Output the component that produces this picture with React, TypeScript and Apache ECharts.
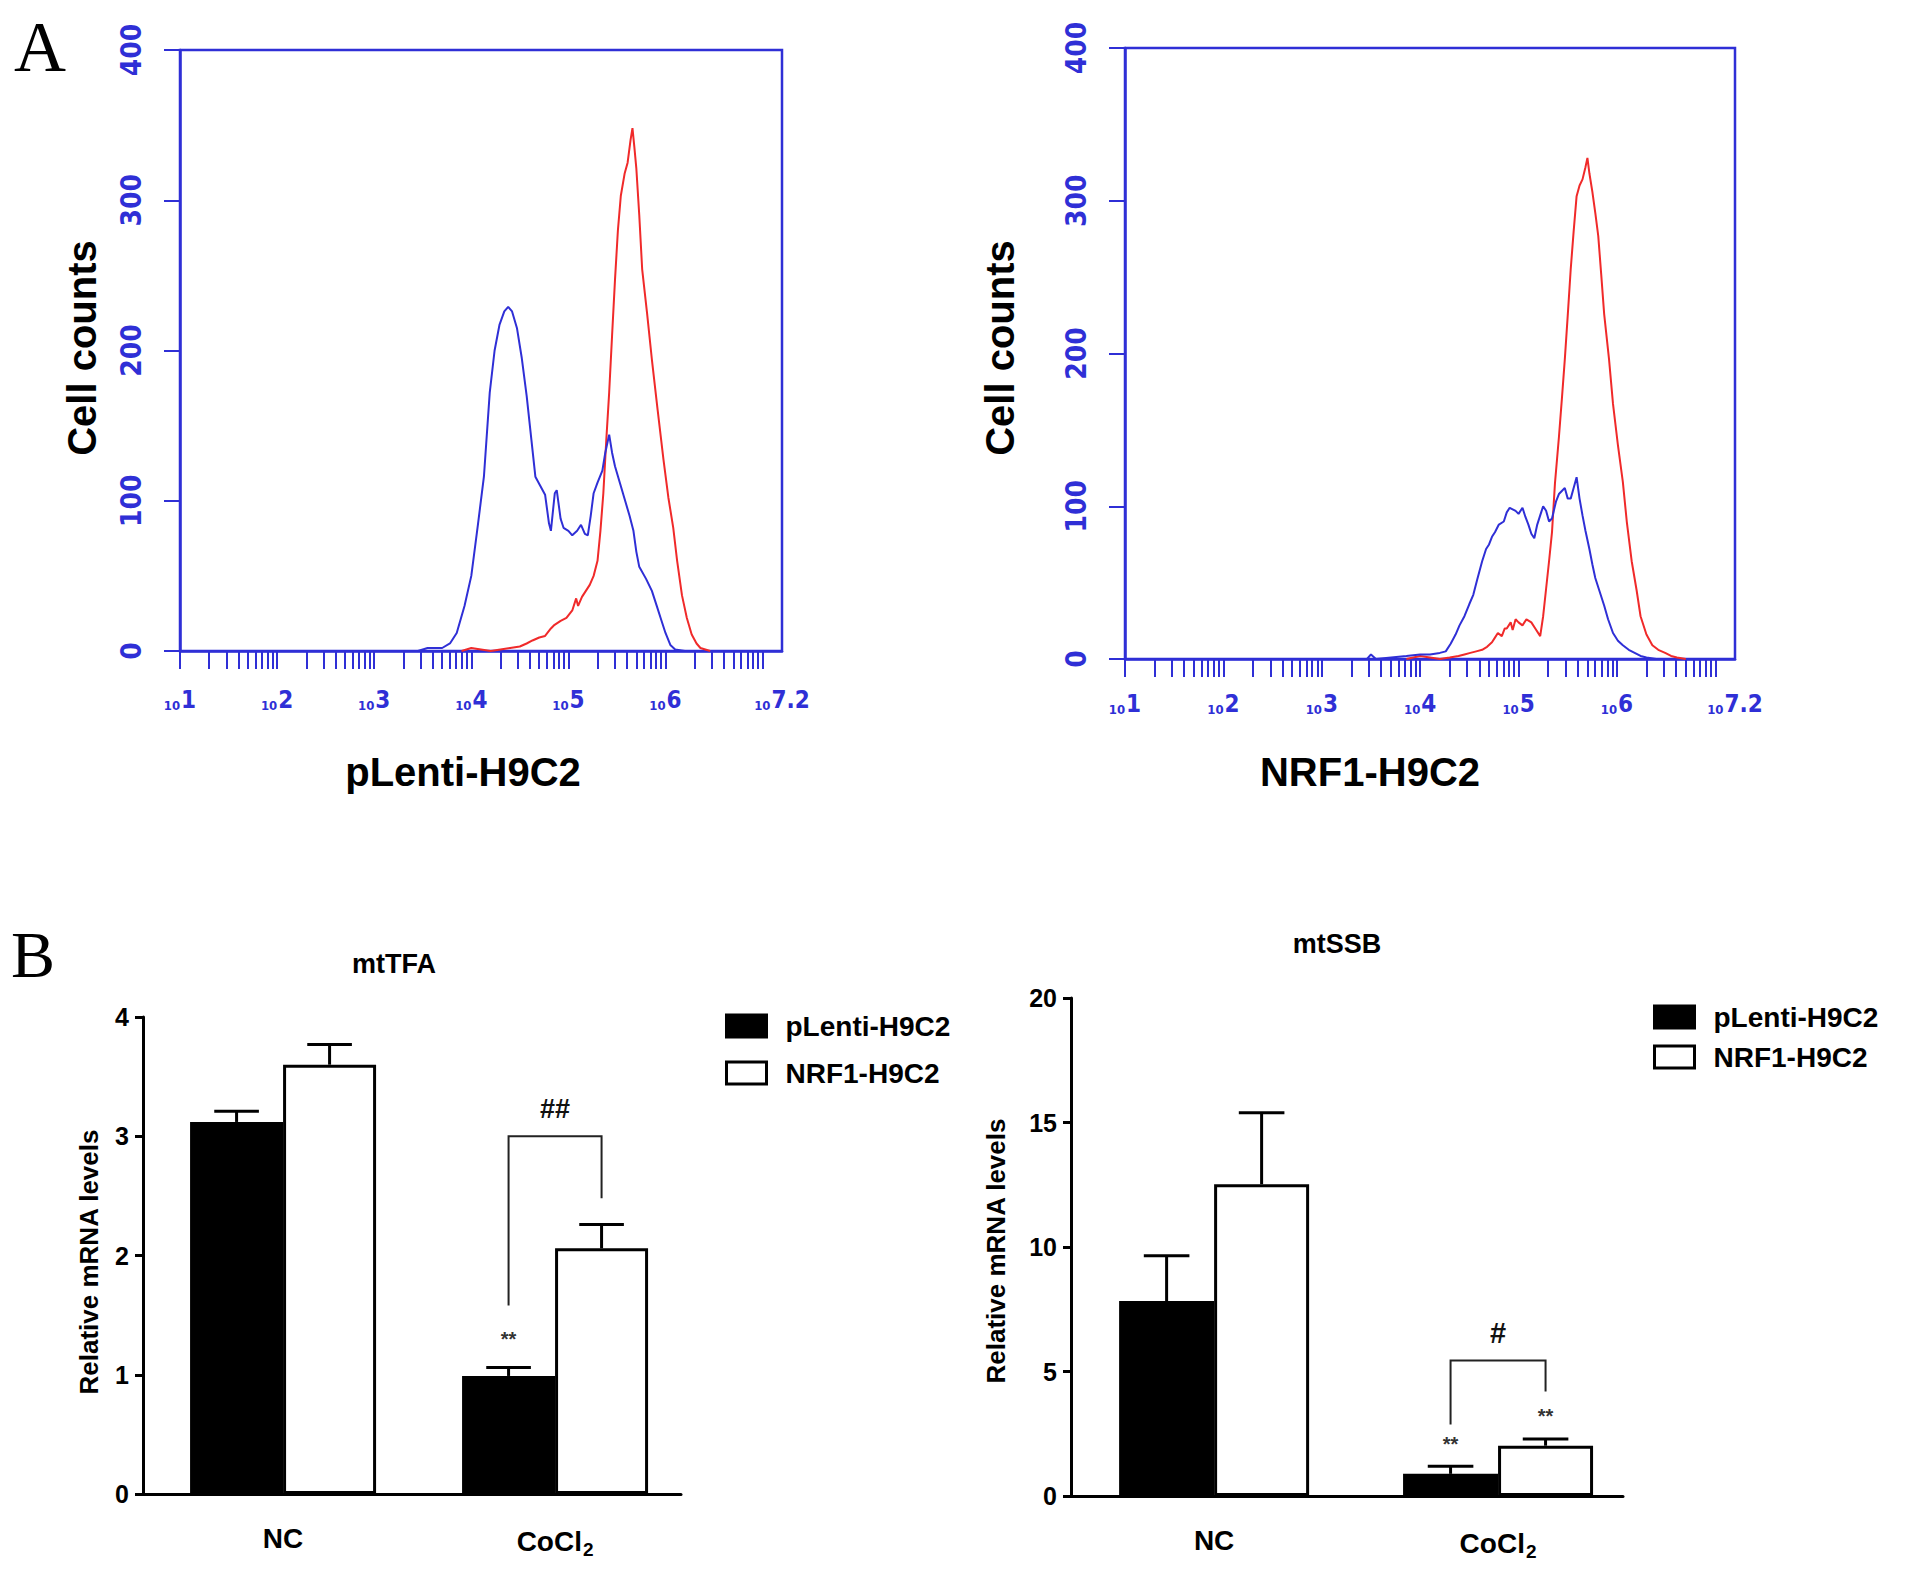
import React, { useEffect, useRef } from "react";
import * as echarts from "echarts";

// ---------- Panel A: flow cytometry histograms (x = log10 fluorescence, y = cell counts) ----------
const histYTicks = [0, 100, 200, 300, 400];
const histXExponents = [1, 2, 3, 4, 5, 6, 7.2];
const histXLabels = ["1", "2", "3", "4", "5", "6", "7.2"];

const pLentiBlue: number[][] = [
  [3.45, 0], [3.55, 2], [3.7, 2], [3.78, 5], [3.85, 12], [3.93, 30], [4.0, 50], [4.07, 85],
  [4.13, 116], [4.19, 172], [4.24, 200], [4.29, 217], [4.34, 226], [4.38, 229], [4.42, 226],
  [4.47, 215], [4.52, 195], [4.57, 170], [4.62, 140], [4.66, 116], [4.71, 110], [4.76, 104],
  [4.8, 85], [4.82, 80], [4.86, 105], [4.88, 107], [4.92, 88], [4.95, 82], [5.0, 80], [5.04, 77],
  [5.09, 80], [5.13, 84], [5.17, 78], [5.2, 77], [5.23, 90], [5.26, 105], [5.3, 112], [5.35, 120],
  [5.38, 132], [5.42, 144], [5.45, 132], [5.48, 123], [5.53, 112], [5.58, 101], [5.63, 90],
  [5.67, 80], [5.7, 66], [5.73, 56], [5.8, 48], [5.86, 40], [5.91, 30], [5.95, 22], [6.0, 12],
  [6.05, 4], [6.1, 1], [6.2, 0],
];
const pLentiRed: number[][] = [
  [3.9, 0], [4.0, 2], [4.1, 1], [4.2, 0], [4.3, 1], [4.4, 2], [4.5, 3], [4.57, 5], [4.63, 7],
  [4.7, 9], [4.76, 10], [4.82, 15], [4.85, 17], [4.92, 20], [4.98, 22], [5.04, 27], [5.08, 35],
  [5.1, 30], [5.14, 36], [5.18, 40], [5.22, 44], [5.26, 50], [5.3, 60], [5.33, 80], [5.36, 105],
  [5.39, 140], [5.42, 172], [5.45, 210], [5.48, 247], [5.51, 280], [5.54, 303], [5.58, 318],
  [5.61, 325], [5.64, 340], [5.66, 348], [5.68, 335], [5.7, 321], [5.73, 290], [5.76, 254],
  [5.81, 225], [5.86, 194], [5.92, 160], [5.98, 127], [6.03, 102], [6.08, 82], [6.12, 60],
  [6.17, 37], [6.22, 22], [6.27, 11], [6.32, 5], [6.36, 2], [6.46, 0],
];
const nrf1Blue: number[][] = [
  [3.46, 0], [3.5, 3], [3.55, 0], [3.86, 2], [4.0, 3], [4.1, 3], [4.2, 4], [4.26, 5], [4.31, 10],
  [4.36, 16], [4.4, 22], [4.45, 28], [4.5, 36], [4.54, 42], [4.58, 52], [4.63, 64], [4.67, 72],
  [4.7, 75], [4.73, 80], [4.76, 83], [4.8, 88], [4.85, 90], [4.88, 96], [4.91, 99], [4.94, 98],
  [4.97, 97], [5.0, 95], [5.04, 99], [5.07, 93], [5.1, 88], [5.13, 82], [5.16, 79], [5.19, 88],
  [5.22, 94], [5.25, 100], [5.28, 97], [5.31, 90], [5.34, 92], [5.38, 103], [5.41, 108],
  [5.44, 110], [5.47, 112], [5.5, 105], [5.53, 105], [5.56, 112], [5.59, 119], [5.62, 105],
  [5.65, 94], [5.68, 84], [5.72, 72], [5.75, 62], [5.78, 53], [5.82, 45], [5.87, 35], [5.91, 26],
  [5.96, 17], [6.01, 12], [6.06, 9], [6.12, 6], [6.18, 4], [6.24, 2], [6.3, 1], [6.4, 0],
];
const nrf1Red: number[][] = [
  [3.86, 0], [4.0, 2], [4.1, 1], [4.2, 0], [4.3, 1], [4.39, 2], [4.45, 3], [4.51, 4], [4.57, 5],
  [4.63, 6], [4.68, 8], [4.73, 11], [4.76, 14], [4.79, 17], [4.83, 15], [4.86, 20], [4.88, 20],
  [4.92, 24], [4.94, 19], [4.97, 26], [5.0, 24], [5.04, 22], [5.08, 26], [5.13, 24], [5.17, 20],
  [5.22, 15], [5.25, 28], [5.28, 46], [5.31, 64], [5.34, 83], [5.37, 115], [5.41, 145],
  [5.44, 170], [5.47, 196], [5.5, 225], [5.53, 255], [5.56, 280], [5.59, 303], [5.62, 310],
  [5.65, 314], [5.68, 322], [5.7, 328], [5.72, 318], [5.75, 306], [5.78, 292], [5.81, 277],
  [5.84, 252], [5.87, 226], [5.92, 196], [5.96, 167], [6.01, 140], [6.06, 116], [6.1, 90],
  [6.15, 64], [6.2, 45], [6.24, 28], [6.3, 16], [6.36, 9], [6.42, 6], [6.49, 4], [6.55, 2],
  [6.61, 1], [6.7, 0],
];

// ---------- Panel B: relative mRNA levels ----------
const groups = ["NC", "CoCl2"];
const groupPositions = [0, 1];
const seriesNames = ["pLenti-H9C2", "NRF1-H9C2"];

const tfaPLenti = [3.12, 0.99];
const tfaPLentiErr = [0.09, 0.07];
const tfaNRF1 = [3.6, 2.06];
const tfaNRF1Err = [0.17, 0.2];

const ssbPLenti = [7.83, 0.89];
const ssbPLentiErr = [1.82, 0.3];
const ssbNRF1 = [12.52, 2.02];
const ssbNRF1Err = [2.87, 0.27];

// significance marks: bracket = [group, left end, top, right end], label level
const tfaBracket = [1, 1.58, 3.0, 2.48];
const tfaHash = { text: "##", level: 3.23 };
const tfaStars = [[1, -1, 1.3]]; // [group, side(-1 pLenti / +1 NRF1), level]

const ssbBracket = [1, 2.87, 5.44, 4.2];
const ssbHash = { text: "#", level: 6.53 };
const ssbStars = [[1, -1, 2.07], [1, 1, 3.23]];

const BLUE = "#2f2fd6";
const RED = "#f02a2a";
const SANS = "'Liberation Sans', Arial, Helvetica, sans-serif";
const NARROW = "'Liberation Sans Narrow', 'DejaVu Sans Condensed', 'Liberation Sans', sans-serif";
const SERIF = "'Liberation Serif', 'DejaVu Serif', 'Times New Roman', serif";

const logTicks: number[] = [];
for (let n = 1; n <= 7; n++) {
  for (let k = 1; k <= 9; k++) {
    const v = n + Math.log10(k);
    if (v <= 7.2 + 1e-9) logTicks.push(v);
  }
}

function histAxes(gi: number, xMargin: number) {
  const x = {
    type: "value",
    gridIndex: gi,
    min: 1,
    max: 7.2,
    axisLine: { show: true, onZero: false, lineStyle: { color: BLUE, width: 2.5 } },
    axisTick: { show: true, customValues: logTicks, length: 18, lineStyle: { color: BLUE, width: 2 } },
    axisLabel: {
      customValues: histXExponents,
      margin: xMargin,
      formatter: (v: number) => {
        let idx = 0;
        histXExponents.forEach((e, i) => {
          if (Math.abs(e - v) < 1e-6) idx = i;
        });
        return `{b|10}{s|${histXLabels[idx]}}`;
      },
      rich: {
        b: { fontSize: 13, color: BLUE, fontFamily: NARROW, fontWeight: "bold", padding: [12, 1, 0, 0] },
        s: { fontSize: 24, color: BLUE, fontFamily: NARROW, fontWeight: "bold" },
      },
    },
    splitLine: { show: false },
  };
  const y = {
    type: "value",
    gridIndex: gi,
    min: 0,
    max: 400,
    interval: 100,
    axisLine: { show: true, onZero: false, lineStyle: { color: BLUE, width: 2.5 } },
    axisTick: { show: true, length: 16, lineStyle: { color: BLUE, width: 2 } },
    axisLabel: {
      rotate: 90,
      margin: 35,
      color: BLUE,
      fontSize: 28,
      fontWeight: "bold",
      fontFamily: NARROW,
      formatter: (v: number) => (histYTicks.indexOf(v) >= 0 ? String(v) : ""),
    },
    splitLine: { show: false },
  };
  return { x, y };
}

function barAxes(gi: number, xMin: number, xMax: number, max: number, interval: number) {
  const x = {
    type: "value",
    gridIndex: gi,
    min: xMin,
    max: xMax,
    axisLine: { show: true, onZero: false, lineStyle: { color: "#000", width: 3 } },
    axisTick: { show: false },
    axisLabel: {
      customValues: groupPositions,
      margin: 30,
      formatter: (v: number) => {
        const g = groups[Math.round(v)] || "";
        return g === "CoCl2" ? "{a|CoCl}{sub|2}" : `{a|${g}}`;
      },
      rich: {
        a: { fontSize: 28, fontWeight: "bold", fontFamily: SANS, color: "#000" },
        sub: { fontSize: 19, fontWeight: "bold", fontFamily: SANS, color: "#000", padding: [16, 0, 0, 1] },
      },
    },
    splitLine: { show: false },
  };
  const y = {
    type: "value",
    gridIndex: gi,
    min: 0,
    max,
    interval,
    axisLine: { show: true, onZero: false, lineStyle: { color: "#000", width: 3 } },
    axisTick: { show: true, length: 8, lineStyle: { color: "#000", width: 3 } },
    axisLabel: { fontSize: 25, fontWeight: "bold", fontFamily: SANS, color: "#000", margin: 14 },
    splitLine: { show: false },
  };
  return { x, y };
}

function barSeries(gi: number, name: string, data: number[], fill: string, barW: number) {
  return {
    type: "bar",
    name,
    xAxisIndex: gi,
    yAxisIndex: gi,
    data: data.map((v, i) => [groupPositions[i], v]),
    barWidth: barW,
    barGap: "0%",
    itemStyle: { color: fill, borderColor: "#000", borderWidth: 3 },
    z: 2,
  };
}

function errorSeries(gi: number, values: number[], errs: number[], side: number, barW: number) {
  return {
    type: "custom",
    xAxisIndex: gi,
    yAxisIndex: gi,
    silent: true,
    z: 3,
    data: values.map((v, i) => [groupPositions[i], v, errs[i]]),
    encode: { x: 0, y: 1 },
    renderItem: (_p: any, api: any) => {
      const c = api.value(0);
      const v = api.value(1);
      const e = api.value(2);
      const base = api.coord([c, v]);
      const top = api.coord([c, v + e]);
      const x = base[0] + (side * barW) / 2;
      const cap = barW * 0.24;
      return {
        type: "group",
        children: [
          { type: "line", shape: { x1: x, y1: base[1], x2: x, y2: top[1] }, style: { stroke: "#000", lineWidth: 3 } },
          { type: "line", shape: { x1: x - cap, y1: top[1], x2: x + cap, y2: top[1] }, style: { stroke: "#000", lineWidth: 3 } },
        ],
      };
    },
  };
}

function bracketSeries(gi: number, br: number[], label: { text: string; level: number }, barW: number, labelSize: number) {
  return {
    type: "custom",
    xAxisIndex: gi,
    yAxisIndex: gi,
    silent: true,
    z: 4,
    data: [[groupPositions[br[0]], br[1], br[2], br[3], label.level]],
    encode: { x: 0, y: 2 },
    renderItem: (_p: any, api: any) => {
      const c = api.value(0);
      const pl = api.coord([c, api.value(1)]);
      const pt = api.coord([c, api.value(2)]);
      const pr = api.coord([c, api.value(3)]);
      const pLabel = api.coord([c, api.value(4)]);
      const xl = pl[0] - barW / 2;
      const xr = pl[0] + barW / 2;
      return {
        type: "group",
        children: [
          {
            type: "polyline",
            shape: { points: [[xl, pl[1]], [xl, pt[1]], [xr, pt[1]], [xr, pr[1]]] },
            style: { stroke: "#222", lineWidth: 2, fill: "none" },
          },
          {
            type: "text",
            style: {
              text: label.text,
              x: pLabel[0],
              y: pLabel[1],
              textAlign: "center",
              textVerticalAlign: "middle",
              font: `bold ${labelSize}px ${SANS}`,
              fill: "#111",
            },
          },
        ],
      };
    },
  };
}

function starSeries(gi: number, stars: number[][], barW: number) {
  return {
    type: "custom",
    xAxisIndex: gi,
    yAxisIndex: gi,
    silent: true,
    z: 4,
    data: stars.map((s) => [groupPositions[s[0]], s[1], s[2]]),
    encode: { x: 0, y: 2 },
    renderItem: (_p: any, api: any) => {
      const c = api.value(0);
      const side = api.value(1);
      const p = api.coord([c, api.value(2)]);
      return {
        type: "text",
        style: {
          text: "**",
          x: p[0] + (side * barW) / 2,
          y: p[1],
          textAlign: "center",
          textVerticalAlign: "middle",
          font: `bold 20px ${SANS}`,
          fill: "#333",
        },
      };
    },
  };
}

function legendFor(left: number, top: number, gap: number) {
  return {
    left,
    top,
    padding: 0,
    orient: "vertical",
    icon: "rect",
    itemWidth: 40,
    itemHeight: 22,
    itemGap: gap,
    selectedMode: false,
    textStyle: { fontSize: 28, fontWeight: "bold", fontFamily: SANS, color: "#000", padding: [0, 0, 0, 14] },
    data: [
      { name: seriesNames[0], itemStyle: { color: "#000", borderColor: "#000", borderWidth: 3 } },
      { name: seriesNames[1], itemStyle: { color: "#fff", borderColor: "#000", borderWidth: 3 } },
    ],
  };
}

function textEl(text: string, x: number, y: number, font: string, rotation = 0, align = "center") {
  return {
    type: "text",
    x,
    y,
    rotation,
    silent: true,
    style: { text, x: 0, y: 0, textAlign: align, textVerticalAlign: "middle", font, fill: "#000" },
  };
}

export default function App() {
  const ref = useRef<HTMLDivElement>(null);

  useEffect(() => {
    document.body.style.margin = "0";
    if (!ref.current) return;
    const chart = echarts.init(ref.current, undefined, { renderer: "svg" });

    const h0 = histAxes(0, 36);
    const h1 = histAxes(1, 32);
    const b2 = barAxes(2, -0.515, 1.463, 4, 1);
    const b3 = barAxes(3, -0.504, 1.44, 20, 5);
    const TFA_W = 93;
    const SSB_W = 95;

    const option: any = {
      animation: false,
      backgroundColor: "#ffffff",
      grid: [
        { left: 180, top: 50, width: 602, height: 601, show: true, borderColor: BLUE, borderWidth: 2.5, backgroundColor: "transparent" },
        { left: 1125, top: 48, width: 610, height: 611, show: true, borderColor: BLUE, borderWidth: 2.5, backgroundColor: "transparent" },
        { left: 143, top: 1017, width: 538, height: 477 },
        { left: 1071, top: 998, width: 552, height: 498 },
      ],
      xAxis: [h0.x, h1.x, b2.x, b3.x],
      yAxis: [h0.y, h1.y, b2.y, b3.y],
      legend: [legendFor(725, 1012, 19), legendFor(1653, 1003, 12)],
      series: [
        { type: "line", xAxisIndex: 0, yAxisIndex: 0, data: pLentiBlue, showSymbol: false, lineStyle: { color: BLUE, width: 2 }, itemStyle: { color: BLUE }, z: 3 },
        { type: "line", xAxisIndex: 0, yAxisIndex: 0, data: pLentiRed, showSymbol: false, lineStyle: { color: RED, width: 2 }, itemStyle: { color: RED }, z: 2 },
        { type: "line", xAxisIndex: 1, yAxisIndex: 1, data: nrf1Blue, showSymbol: false, lineStyle: { color: BLUE, width: 2 }, itemStyle: { color: BLUE }, z: 3 },
        { type: "line", xAxisIndex: 1, yAxisIndex: 1, data: nrf1Red, showSymbol: false, lineStyle: { color: RED, width: 2 }, itemStyle: { color: RED }, z: 2 },

        barSeries(2, seriesNames[0], tfaPLenti, "#000", TFA_W),
        barSeries(2, seriesNames[1], tfaNRF1, "#fff", TFA_W),
        errorSeries(2, tfaPLenti, tfaPLentiErr, -1, TFA_W),
        errorSeries(2, tfaNRF1, tfaNRF1Err, 1, TFA_W),
        bracketSeries(2, tfaBracket, tfaHash, TFA_W, 27),
        starSeries(2, tfaStars, TFA_W),

        barSeries(3, seriesNames[0], ssbPLenti, "#000", SSB_W),
        barSeries(3, seriesNames[1], ssbNRF1, "#fff", SSB_W),
        errorSeries(3, ssbPLenti, ssbPLentiErr, -1, SSB_W),
        errorSeries(3, ssbNRF1, ssbNRF1Err, 1, SSB_W),
        bracketSeries(3, ssbBracket, ssbHash, SSB_W, 29),
        starSeries(3, ssbStars, SSB_W),
      ],
      graphic: [
        textEl("A", 14, 47, `72px ${SERIF}`, 0, "left"),
        textEl("B", 11, 954, `66px ${SERIF}`, 0, "left"),
        textEl("Cell counts", 82, 348, `bold 40px ${SANS}`, Math.PI / 2),
        textEl("Cell counts", 1000, 348, `bold 40px ${SANS}`, Math.PI / 2),
        textEl("pLenti-H9C2", 463, 772, `bold 40px ${SANS}`),
        textEl("NRF1-H9C2", 1370, 772, `bold 40px ${SANS}`),
        textEl("mtTFA", 394, 964, `bold 27px ${SANS}`),
        textEl("mtSSB", 1337, 944, `bold 27px ${SANS}`),
        textEl("Relative mRNA levels", 89, 1262, `bold 26px ${SANS}`, Math.PI / 2),
        textEl("Relative mRNA levels", 996, 1251, `bold 26px ${SANS}`, Math.PI / 2),
      ],
    };

    chart.setOption(option);
    return () => {
      chart.dispose();
    };
  }, []);

  return <div ref={ref} style={{ width: 1913, height: 1572 }} />;
}
